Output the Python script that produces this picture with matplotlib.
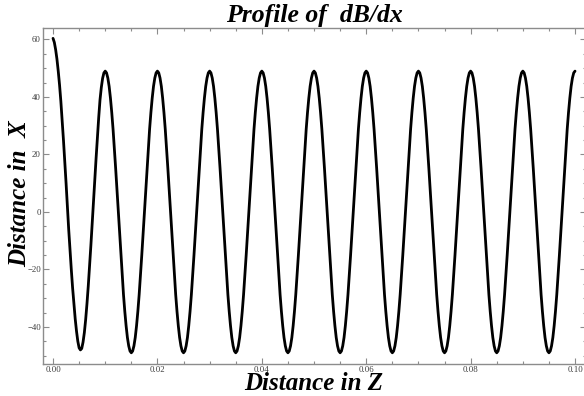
import matplotlib
matplotlib.use("Agg")
import matplotlib.pyplot as plt
from matplotlib.ticker import MultipleLocator

# Sample positions along Z (every 0.00025) and dB/dx values
z_step = 0.00025
first_period = [60.4, 59.0, 56.5, 53.2, 49.0, 44.2, 38.5, 32.0, 25.0, 17.6,
                10.0, 2.0, -6.0, -13.2, -20.0, -26.4, -32.0, -37.2, -41.5, -45.0,
                -47.3, -48.0, -47.5, -45.3, -42.0, -37.5, -32.0, -25.8, -19.0, -11.7,
                -4.0, 3.6, 11.0, 18.7, 26.0, 32.8, 39.0, 43.3, 46.5, 48.4]
period_2 = [49.0, 48.4, 46.6, 43.7, 39.6, 34.6, 28.8, 22.2, 15.1, 7.7,
            0.0, -7.7, -15.1, -22.2, -28.8, -34.6, -39.6, -43.7, -46.6, -48.4,
            -49.0, -48.4, -46.6, -43.7, -39.6, -34.6, -28.8, -22.2, -15.1, -7.7,
            0.0, 7.7, 15.1, 22.2, 28.8, 34.6, 39.6, 43.7, 46.6, 48.4]
period_3 = [49.0, 48.4, 46.6, 43.7, 39.6, 34.6, 28.8, 22.2, 15.1, 7.7,
            0.0, -7.7, -15.1, -22.2, -28.8, -34.6, -39.6, -43.7, -46.6, -48.4,
            -49.0, -48.4, -46.6, -43.7, -39.6, -34.6, -28.8, -22.2, -15.1, -7.7,
            0.0, 7.7, 15.1, 22.2, 28.8, 34.6, 39.6, 43.7, 46.6, 48.4]
period_4 = [49.0, 48.4, 46.6, 43.7, 39.6, 34.6, 28.8, 22.2, 15.1, 7.7,
            0.0, -7.7, -15.1, -22.2, -28.8, -34.6, -39.6, -43.7, -46.6, -48.4,
            -49.0, -48.4, -46.6, -43.7, -39.6, -34.6, -28.8, -22.2, -15.1, -7.7,
            0.0, 7.7, 15.1, 22.2, 28.8, 34.6, 39.6, 43.7, 46.6, 48.4]
period_5 = [49.0, 48.4, 46.6, 43.7, 39.6, 34.6, 28.8, 22.2, 15.1, 7.7,
            0.0, -7.7, -15.1, -22.2, -28.8, -34.6, -39.6, -43.7, -46.6, -48.4,
            -49.0, -48.4, -46.6, -43.7, -39.6, -34.6, -28.8, -22.2, -15.1, -7.7,
            0.0, 7.7, 15.1, 22.2, 28.8, 34.6, 39.6, 43.7, 46.6, 48.4]
period_6 = [49.0, 48.4, 46.6, 43.7, 39.6, 34.6, 28.8, 22.2, 15.1, 7.7,
            0.0, -7.7, -15.1, -22.2, -28.8, -34.6, -39.6, -43.7, -46.6, -48.4,
            -49.0, -48.4, -46.6, -43.7, -39.6, -34.6, -28.8, -22.2, -15.1, -7.7,
            0.0, 7.7, 15.1, 22.2, 28.8, 34.6, 39.6, 43.7, 46.6, 48.4]
period_7 = [49.0, 48.4, 46.6, 43.7, 39.6, 34.6, 28.8, 22.2, 15.1, 7.7,
            0.0, -7.7, -15.1, -22.2, -28.8, -34.6, -39.6, -43.7, -46.6, -48.4,
            -49.0, -48.4, -46.6, -43.7, -39.6, -34.6, -28.8, -22.2, -15.1, -7.7,
            0.0, 7.7, 15.1, 22.2, 28.8, 34.6, 39.6, 43.7, 46.6, 48.4]
period_8 = [49.0, 48.4, 46.6, 43.7, 39.6, 34.6, 28.8, 22.2, 15.1, 7.7,
            0.0, -7.7, -15.1, -22.2, -28.8, -34.6, -39.6, -43.7, -46.6, -48.4,
            -49.0, -48.4, -46.6, -43.7, -39.6, -34.6, -28.8, -22.2, -15.1, -7.7,
            0.0, 7.7, 15.1, 22.2, 28.8, 34.6, 39.6, 43.7, 46.6, 48.4]
period_9 = [49.0, 48.4, 46.6, 43.7, 39.6, 34.6, 28.8, 22.2, 15.1, 7.7,
            0.0, -7.7, -15.1, -22.2, -28.8, -34.6, -39.6, -43.7, -46.6, -48.4,
            -49.0, -48.4, -46.6, -43.7, -39.6, -34.6, -28.8, -22.2, -15.1, -7.7,
            0.0, 7.7, 15.1, 22.2, 28.8, 34.6, 39.6, 43.7, 46.6, 48.4]
period_10 = [49.0, 48.4, 46.6, 43.7, 39.6, 34.6, 28.8, 22.2, 15.1, 7.7,
             0.0, -7.7, -15.1, -22.2, -28.8, -34.6, -39.6, -43.7, -46.6, -48.4,
             -49.0, -48.4, -46.6, -43.7, -39.6, -34.6, -28.8, -22.2, -15.1, -7.7,
             0.0, 7.7, 15.1, 22.2, 28.8, 34.6, 39.6, 43.7, 46.6, 48.4]
last_value = [49.0]

dbdx = (first_period + period_2 + period_3 + period_4 + period_5 + period_6
        + period_7 + period_8 + period_9 + period_10 + last_value)
z = [i * z_step for i in range(len(dbdx))]

x_ticks = [0.00, 0.02, 0.04, 0.06, 0.08, 0.10]
x_tick_labels = ["0.00", "0.02", "0.04", "0.06", "0.08", "0.10"]
y_ticks = [-40, -20, 0, 20, 40, 60]
y_tick_labels = ["\u221240", "\u221220", "0", "20", "40", "60"]

W, H = 584, 396
fig = plt.figure(figsize=(W / 100, H / 100), dpi=100)
left_px, right_px, top_px, bottom_px = 43, 586, 28, 364
ax = fig.add_axes([left_px / W, 1 - bottom_px / H,
                   (right_px - left_px) / W, (bottom_px - top_px) / H])

ax.plot(z, dbdx, color="black", lw=2.0, solid_joinstyle="round", solid_capstyle="round")

ax.set_xlim(-0.00192, 0.1021)
ax.set_ylim(-52.9, 64.0)

frame_color = "#8c8c8c"
for s in ax.spines.values():
    s.set_color(frame_color)
    s.set_linewidth(1.0)

serif = ["Liberation Serif", "DejaVu Serif"]
ax.set_xticks(x_ticks)
ax.set_xticklabels(x_tick_labels, fontfamily=serif, fontsize=6.3, color="#3a3a3a")
ax.set_yticks(y_ticks)
ax.set_yticklabels(y_tick_labels, fontfamily=serif, fontsize=6.3, color="#3a3a3a")
ax.xaxis.set_minor_locator(MultipleLocator(0.005))
ax.yaxis.set_minor_locator(MultipleLocator(5))
ax.tick_params(which="both", direction="in", top=True, right=True, color=frame_color, width=0.8)
ax.tick_params(which="major", length=4, pad=1.5)
ax.tick_params(which="minor", length=2)

font_kw = dict(fontfamily=serif, fontweight="bold", fontstyle="italic")
fig.text(314 / W, 1 - 22 / H, "Profile of  dB/dx", ha="center", va="baseline",
         fontsize=18.5, **font_kw)
fig.text(314 / W, 1 - 390 / H, "Distance in Z", ha="center", va="baseline",
         fontsize=18, **font_kw)
fig.text(20 / W, 1 - 194 / H, "Distance in  X", ha="center", va="center", rotation=90,
         fontsize=18, **font_kw)

fig.savefig("out.png", dpi=100)
